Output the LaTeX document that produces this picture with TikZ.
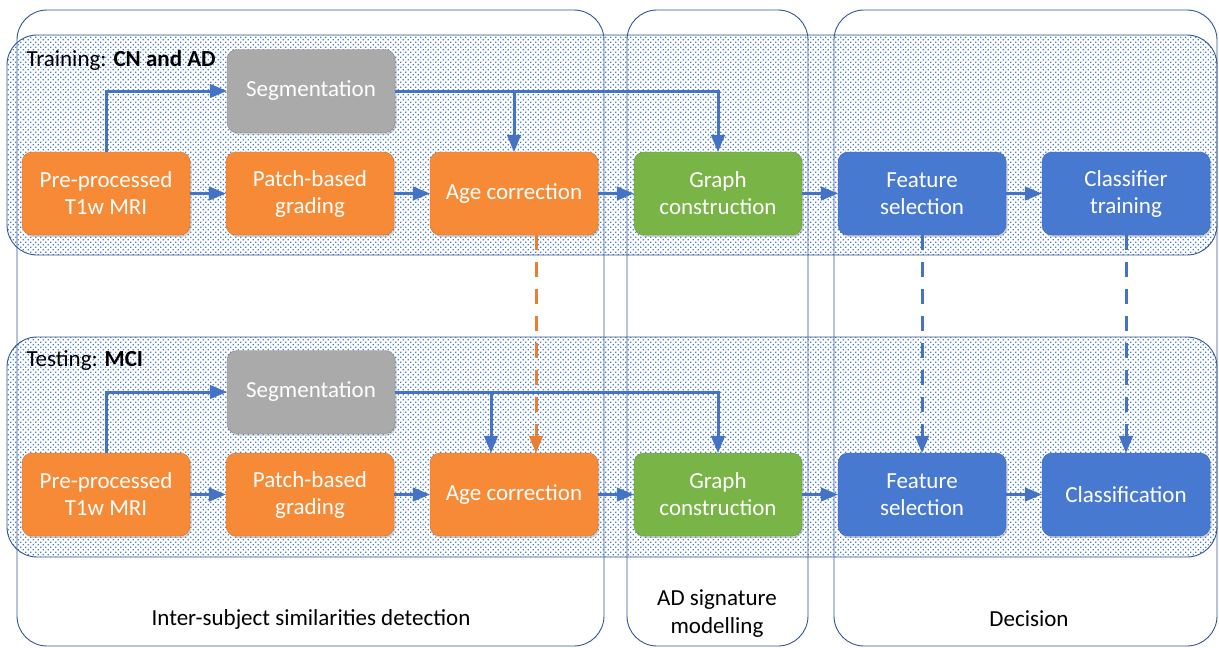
\documentclass[tikz,border=0pt]{standalone}
\usepackage{fontspec}
\setmainfont{Carlito}
\usepackage{tikz}
\usetikzlibrary{arrows,patterns,shadows}
\definecolor{boxorange}{RGB}{246,138,54}
\definecolor{boxgrey}{RGB}{170,170,170}
\definecolor{boxgreen}{RGB}{120,180,70}
\definecolor{boxblue}{RGB}{72,121,208}
\definecolor{flowblue}{RGB}{68,114,196}
\definecolor{floworange}{RGB}{237,125,49}
\definecolor{lanecol}{RGB}{47,85,151}
\definecolor{dotcol}{RGB}{75,125,215}
\pgfdeclarepatternformonly{bluedots}{\pgfqpoint{-1pt}{-1pt}}{\pgfqpoint{5pt}{5pt}}{\pgfqpoint{5pt}{5pt}}{
    \pgfpathrectangle{\pgfqpoint{0pt}{0pt}}{\pgfqpoint{1.3pt}{1.3pt}}
    \pgfpathrectangle{\pgfqpoint{2.5pt}{2.5pt}}{\pgfqpoint{1.3pt}{1.3pt}}
    \pgfusepath{fill}}

\begin{document}
\begin{tikzpicture}[x=1pt,y=-1pt,>=triangle 45,node distance=204pt]
    \tikzstyle{lane}=[draw=lanecol,line width=0.9pt,rounded corners=30pt]
    \tikzstyle{band}=[lane,pattern=bluedots,pattern color=dotcol]
    \tikzstyle{box}=[rectangle,rounded corners=10pt,minimum width=168pt,minimum height=83pt,
        align=center,text=white,font=\fontsize{23}{27}\selectfont,
        drop shadow={shadow xshift=1.5pt,shadow yshift=-2pt,opacity=0.35}]
    \tikzstyle{orangebox}=[box,fill=boxorange,draw=boxorange!85!black]
    \tikzstyle{greybox}=[box,fill=boxgrey,draw=boxgrey!80!black]
    \tikzstyle{greenbox}=[box,fill=boxgreen,draw=boxgreen!85!black]
    \tikzstyle{bluebox}=[box,fill=boxblue,draw=boxblue!85!black]
    \tikzstyle{flow}=[->,draw=flowblue,line width=3pt]
    \tikzstyle{carry}=[flow,dash pattern=on 15pt off 12pt]
    \tikzstyle{caption}=[font=\fontsize{23}{28}\selectfont,align=center]
    \useasboundingbox (0,0) rectangle (1219,648);
    \draw[lane] (17,10) rectangle (604,646);
    \draw[lane] (627,10) rectangle (808,646);
    \draw[lane] (834,10) rectangle (1217,646);
    \draw[band] (7,35) rectangle (1217,255);
    \draw[band] (7,337) rectangle (1217,557);

    \node[caption,anchor=west] (train) at (23,60) {Training: \textbf{CN and AD}};
    \node[orangebox]              (pre1) at (106,193.5) {Pre-processed\\T1w MRI};
    \node[orangebox,right of=pre1]   (patch1) {Patch-based\\grading};
    \node[orangebox,right of=patch1] (age1)   {Age correction};
    \node[greenbox,right of=age1]    (graph1) {Graph\\construction};
    \node[bluebox,right of=graph1]   (feat1)  {Feature\\selection};
    \node[bluebox,right of=feat1]    (clf1)   {Classifier\\training};
    \node[greybox]                (seg1) at (311,91) {Segmentation};

    \node[caption,anchor=west] (test) at (23,361) {Testing: \textbf{MCI}};
    \node[orangebox]              (pre2) at (106,494.5) {Pre-processed\\T1w MRI};
    \node[orangebox,right of=pre2]   (patch2) {Patch-based\\grading};
    \node[orangebox,right of=patch2] (age2)   {Age correction};
    \node[greenbox,right of=age2]    (graph2) {Graph\\construction};
    \node[bluebox,right of=graph2]   (feat2)  {Feature\\selection};
    \node[bluebox,right of=feat2]    (clf2)   {Classification};
    \node[greybox]                (seg2) at (311,392) {Segmentation};

    \node[caption] (inter) at (311,619) {Inter-subject similarities detection};
    \node[caption] (sign)  at (717,614) {AD signature\\modelling};
    \node[caption] (dec)   at (1029,619) {Decision};

    \draw[flow] (pre1.north) |- (seg1.west);
    \draw[flow] (pre1) -- (patch1);
    \draw[flow] (patch1) -- (age1);
    \draw[flow] (age1) -- (graph1);
    \draw[flow] (graph1) -- (feat1);
    \draw[flow] (feat1) -- (clf1);
    \draw[flow] (seg1.east) -| (graph1.north);
    \draw[flow] (seg1.east) -| (age1.north);

    \draw[flow] (pre2.north) |- (seg2.west);
    \draw[flow] (pre2) -- (patch2);
    \draw[flow] (patch2) -- (age2);
    \draw[flow] (age2) -- (graph2);
    \draw[flow] (graph2) -- (feat2);
    \draw[flow] (feat2) -- (clf2);
    \draw[flow] (seg2.east) -| (graph2.north);
    \draw[flow] (seg2.east) -| ([xshift=-23pt]age2.north);

    \draw[carry,draw=floworange] ([xshift=22pt]age1.south) -- ([xshift=22pt]age2.north);
    \draw[carry] (feat1) -- (feat2);
    \draw[carry] (clf1) -- (clf2);
\end{tikzpicture}
\end{document}
